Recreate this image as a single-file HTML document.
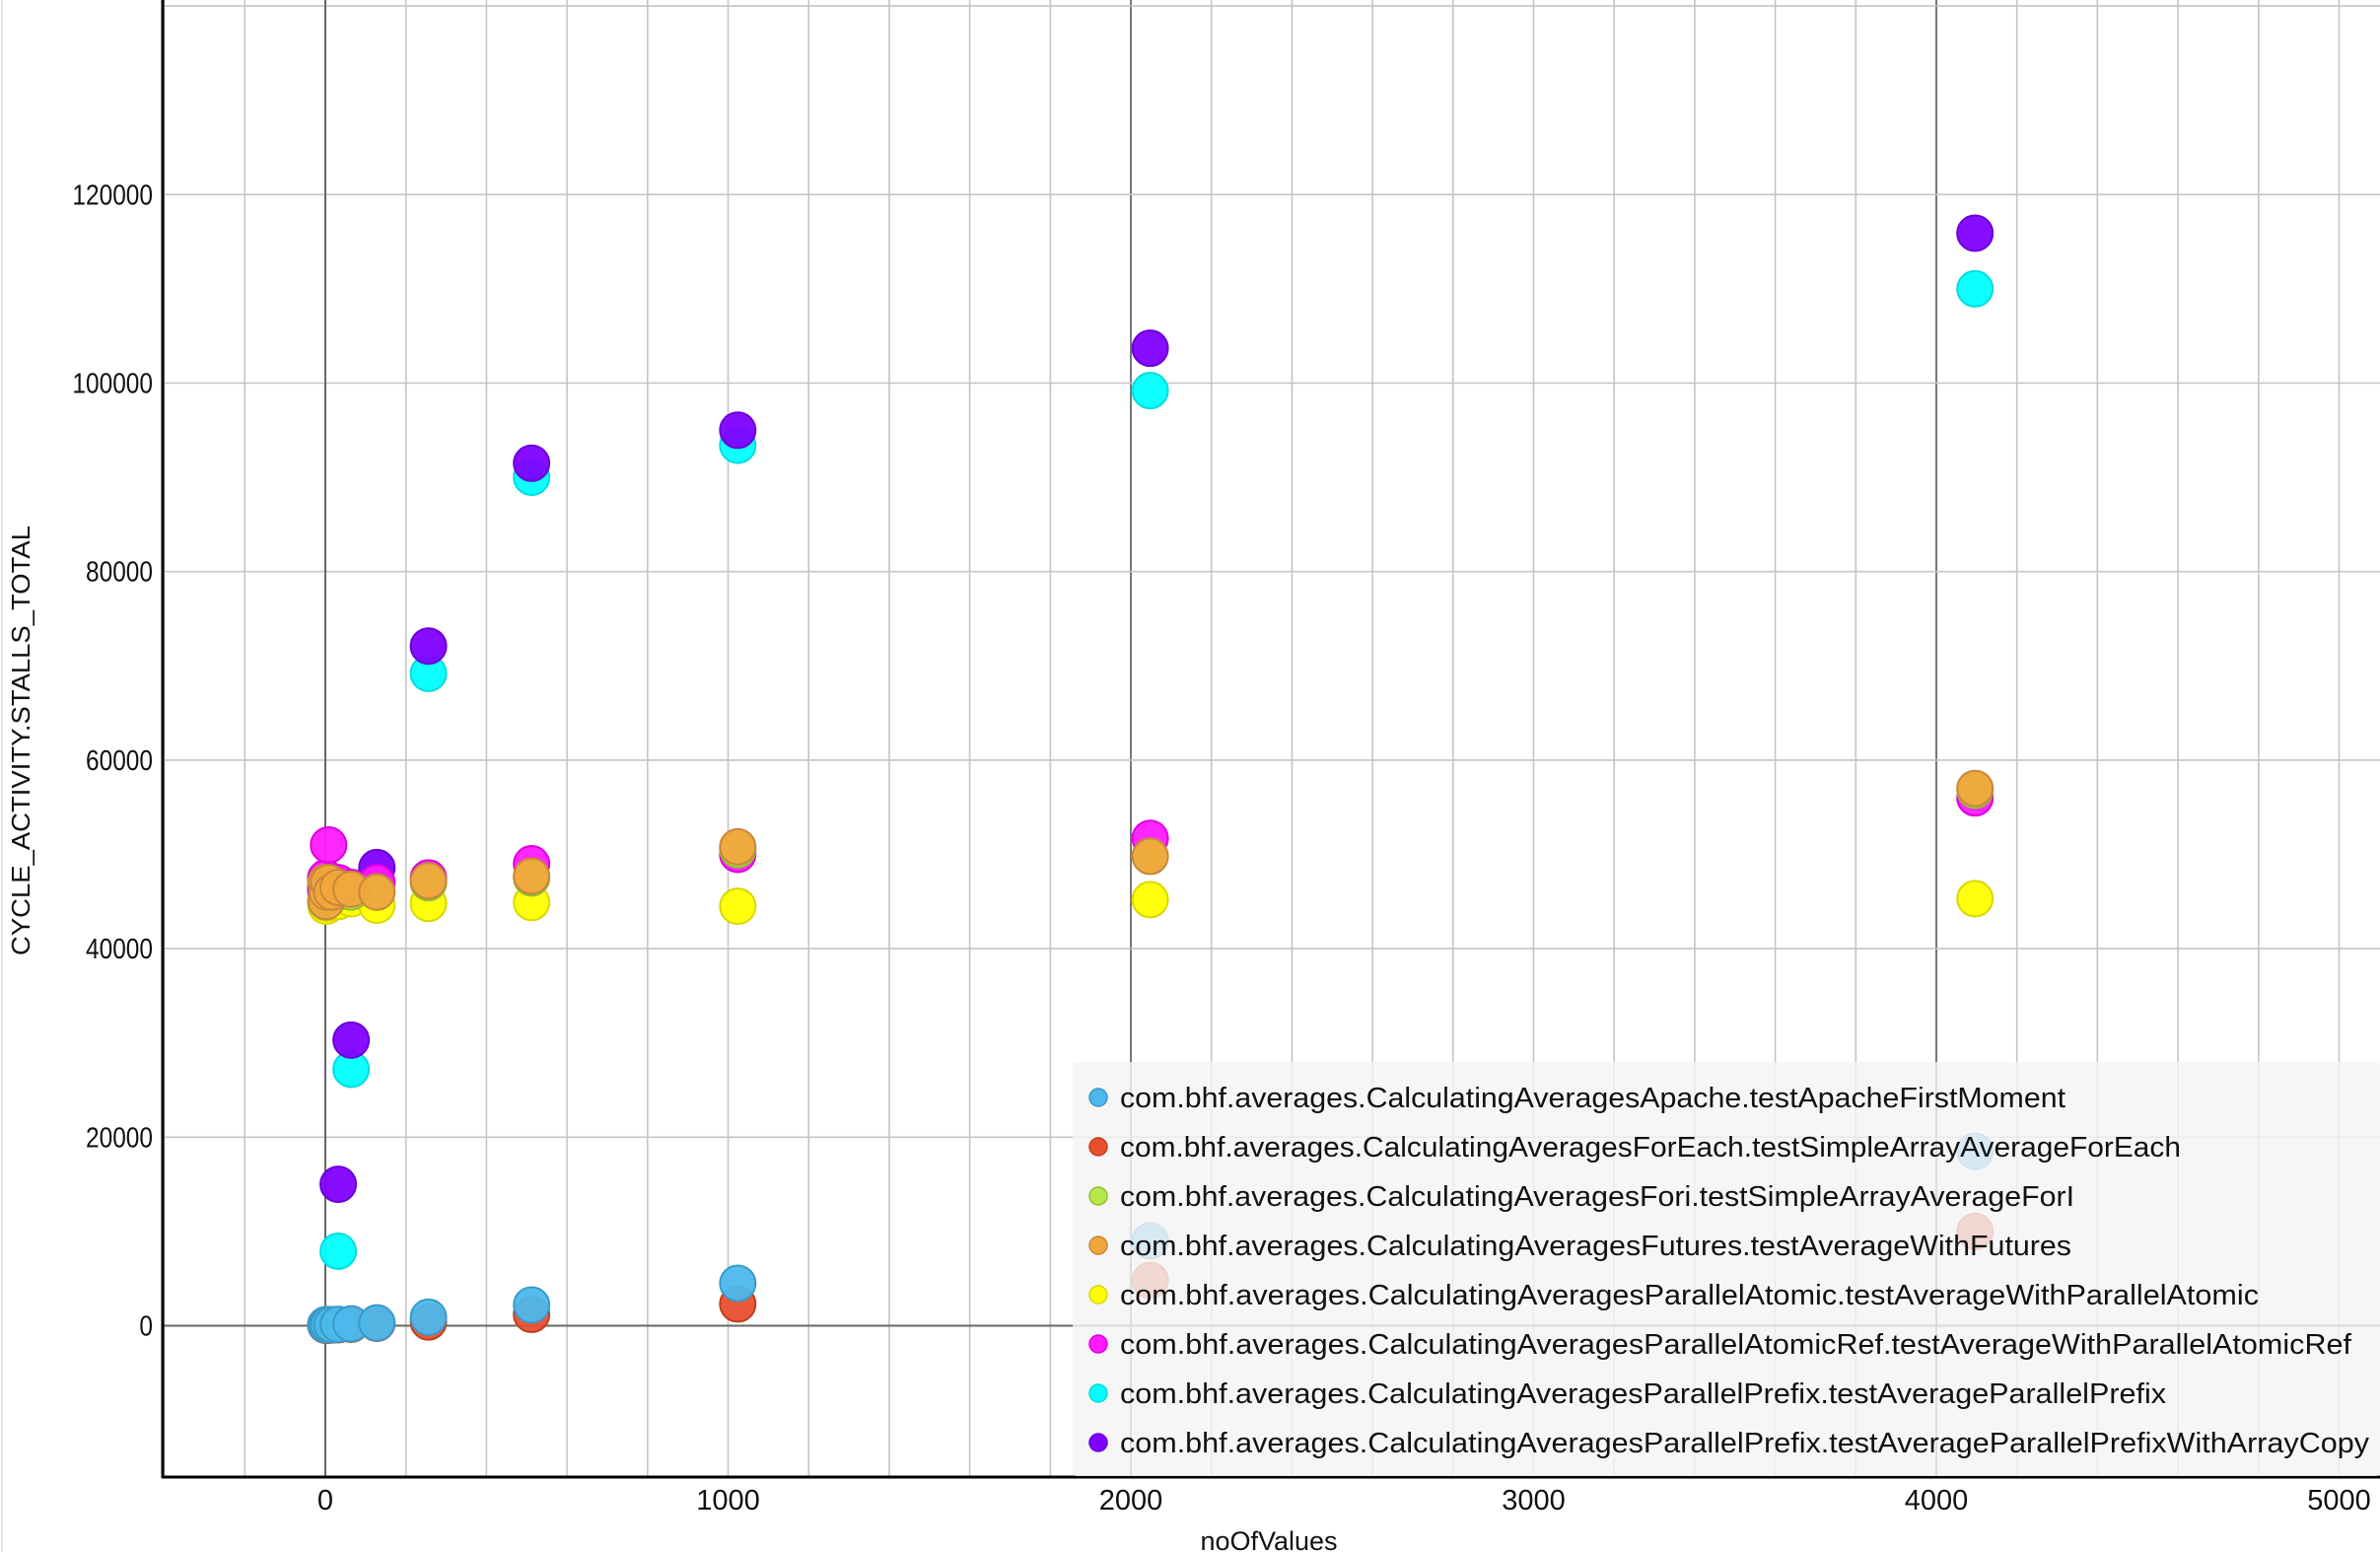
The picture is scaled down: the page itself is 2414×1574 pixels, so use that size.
<!DOCTYPE html>
<html><head><meta charset="utf-8"><style>
html,body{margin:0;padding:0;background:#fff;width:2414px;height:1574px;overflow:hidden}
svg{display:block;font-family:"Liberation Sans",sans-serif}
</style></head><body>
<svg id="chart" width="2414" height="1574" viewBox="0 0 2414 1574">
<line x1="2" y1="0" x2="2" y2="1574" stroke="#e4e4e4" stroke-width="2"/>
<g id="grid"></g>
<g id="points"></g>
<g id="axes"></g>
<g id="legend"></g>
<text x="1287" y="1572" text-anchor="middle" font-size="27" fill="#111">noOfValues</text>
<text transform="translate(30,751) rotate(-90)" text-anchor="middle" font-size="26" fill="#111" textLength="436" lengthAdjust="spacingAndGlyphs">CYCLE_ACTIVITY.STALLS_TOTAL</text>
</svg>
<script>
const xValues = [1,2,4,8,16,32,64,128,256,512,1024,2048,4096];
const seriesNames = [
"com.bhf.averages.CalculatingAveragesApache.testApacheFirstMoment",
"com.bhf.averages.CalculatingAveragesForEach.testSimpleArrayAverageForEach",
"com.bhf.averages.CalculatingAveragesFori.testSimpleArrayAverageForI",
"com.bhf.averages.CalculatingAveragesFutures.testAverageWithFutures",
"com.bhf.averages.CalculatingAveragesParallelAtomic.testAverageWithParallelAtomic",
"com.bhf.averages.CalculatingAveragesParallelAtomicRef.testAverageWithParallelAtomicRef",
"com.bhf.averages.CalculatingAveragesParallelPrefix.testAverageParallelPrefix",
"com.bhf.averages.CalculatingAveragesParallelPrefix.testAverageParallelPrefixWithArrayCopy"];
const apacheValues   = [100,100,100,100,100,150,200,300,900,2200,4500,9000,18500];
const forEachValues  = [50,50,60,70,80,100,150,250,400,1200,2300,4800,10000];
const foriValues     = [45000,45000,45500,46000,46000,46000,46000,46000,47000,47500,50500,49800,56800];
const futuresValues  = [47000,45000,46000,47000,46000,46500,46300,46000,47200,47700,50800,49800,57000];
const atomicValues   = [45000,44500,44800,45000,45200,45000,45300,44600,44800,44900,44500,45200,45300];
const atomicRefValues= [47500,46000,47000,51000,47000,47000,46500,47000,47500,49000,50000,51700,56000];
const prefixValues   = [46000,46000,46000,46000,46000,7900,27200,47000,69200,90000,93400,99200,110000];
const prefixCopyValues=[46500,46500,46500,46500,46500,15000,30300,48600,72100,91500,95000,103700,115900];
const xTicks = [0,1000,2000,3000,4000,5000];
const yTicks = [0,20000,40000,60000,80000,100000,120000];
const legendWidths = [959,1076,968,965,1155,1249,1061,1267];

const NS="http://www.w3.org/2000/svg";
const sx=v=>330+v*0.4085;
const sy=v=>1344.5-v*0.00956;
function mk(tag,parent,attrs){const e=document.createElementNS(NS,tag);for(const k in attrs)e.setAttribute(k,attrs[k]);parent.appendChild(e);return e;}
const grid=document.getElementById('grid'),axes=document.getElementById('axes'),pts=document.getElementById('points'),leg=document.getElementById('legend');
for(let v=-400;v<=5100;v+=200){
  const x=sx(v); if(x<166) continue;
  const major=(v===2000||v===4000);
  const l=mk('line',grid,{x1:x,y1:0,x2:x,y2:1498,stroke:major?'#777':'#c4c4c4','stroke-width':major?2:1.6});
  
  
}
for(let v=-0;v<=140000;v+=20000){
  const y=sy(v);
  const l=mk('line',grid,{x1:165,y1:y,x2:2414,y2:y,stroke:v===0?'#666':'#c4c4c4','stroke-width':v===0?2:1.6});
  
  
}
const zl=mk('line',grid,{x1:sx(0),y1:0,x2:sx(0),y2:1498,stroke:'#666','stroke-width':2});


const colors=['#4cb8ec','#e8502e','#b5e84a','#f0a63c','#ffff00','#ff1aff','#00ffff','#8000ff'];
const strokes=['#3a9ac8','#c04020','#90c030','#c8883a','#d8d800','#dd00dd','#00dddd','#6a00d8'];
const series=[apacheValues,forEachValues,foriValues,futuresValues,atomicValues,atomicRefValues,prefixValues,prefixCopyValues];
const order=[6,7,5,4,2,3,1,0];
order.forEach(si=>{
  series[si].forEach((val,i)=>{
    const c=mk('circle',pts,{cx:sx(xValues[i]),cy:sy(val),r:18,fill:colors[si],stroke:strokes[si],'stroke-width':2,'fill-opacity':0.95});
    
    
  });
});
const la=mk('line',axes,{x1:165,y1:0,x2:165,y2:1499,stroke:'#000','stroke-width':3});


const ba=mk('line',axes,{x1:164,y1:1498,x2:2414,y2:1498,stroke:'#000','stroke-width':3});


xTicks.forEach(v=>{
  const t=mk('text',axes,{x:sx(v),y:1531,'text-anchor':'middle','font-size':29,fill:'#111'});
  t.textContent=String(v);
  
  
});
yTicks.forEach(v=>{
  const s=String(v);
  const t=mk('text',axes,{x:155,y:sy(v)+10,'text-anchor':'end','font-size':29,fill:'#111',textLength:s.length*13.6,lengthAdjust:'spacingAndGlyphs'});
  t.textContent=s;
  
  
});
const bg=mk('rect',leg,{x:1088,y:1077,width:1326,height:420,fill:'#f4f4f4','fill-opacity':0.82,rx:4});


seriesNames.forEach((n,i)=>{
  const cy=1113+i*50;
  const g=mk('g',leg,{});
  
  
  mk('ellipse',g,{cx:1114,cy:cy,rx:9,ry:9,fill:colors[i],stroke:strokes[i],'stroke-width':1.5});
  const t=mk('text',g,{x:1136,y:cy+10,'font-size':29,fill:'#111',textLength:legendWidths[i],lengthAdjust:'spacingAndGlyphs'});
  t.textContent=n;
});
</script>
</body></html>
